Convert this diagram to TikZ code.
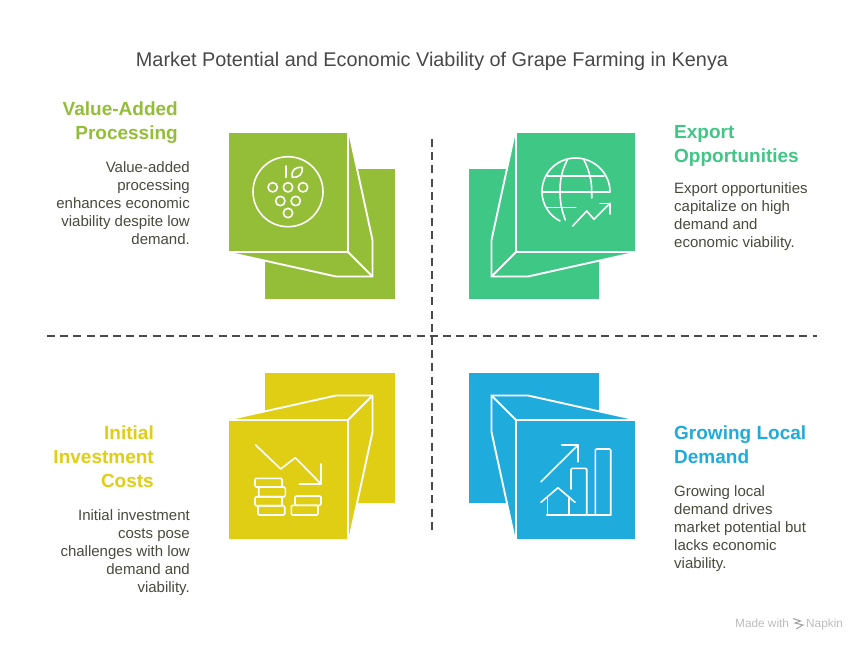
\documentclass[tikz,border=0pt]{standalone}
\usepackage{fontspec}
\setmainfont{Liberation Sans}
\definecolor{cgreen}{HTML}{94BD38}
\definecolor{cteal}{HTML}{3EC785}
\definecolor{cyellow}{HTML}{E0CE14}
\definecolor{cblue}{HTML}{1FACDC}
\definecolor{ctitle}{HTML}{484848}
\definecolor{cbody}{HTML}{4A4A3E}
\definecolor{cdash}{HTML}{4A4A4A}
\definecolor{cfoot}{HTML}{BDBDBD}
\newcommand{\cubeblock}[1]{%
  \fill[#1] (265,169) rectangle (395,299);
  \fill[#1] (348.6,130) -- (372.5,240) -- (372.5,276.5) -- (336,276.5) -- (226,252) -- (349,253) -- cycle;
  \draw[edgeline] (348.6,130) -- (372.5,240) -- (372.5,276.5) -- (336,276.5) -- (226,252);
  \draw[edgeline] (348,252) -- (372,276);
  \draw[white,line width=2.2pt] (348,125) -- (348,252) -- (225,252);
  \fill[#1] (229,133) rectangle (347,251);
}
\tikzset{
  x=1pt,y=-1pt,
  edgeline/.style={white,line width=1.9pt,line join=miter,miter limit=2},
  icon/.style={white,line width=1.6pt,line cap=round,line join=round},
  dashline/.style={cdash,line width=1.7pt,dash pattern=on 8pt off 5.2pt},
  titletxt/.style={ctitle,font=\fontsize{19.85}{24}\selectfont,inner sep=0pt},
  headtxt/.style={font=\fontsize{19}{24}\selectfont\bfseries,inner sep=0pt},
  headr/.style={headtxt,align=right,anchor=north east},
  headl/.style={headtxt,align=left,anchor=north west},
  bodytxt/.style={cbody,font=\fontsize{15}{18}\selectfont,inner sep=0pt},
  bodyr/.style={bodytxt,align=right,anchor=north east},
  bodyl/.style={bodytxt,align=left,anchor=north west},
  foottxt/.style={cfoot,font=\fontsize{11.8}{13}\selectfont,inner sep=0pt,anchor=base west},
}
\begin{document}
\begin{tikzpicture}
\useasboundingbox (0,0) rectangle (864,648);
\fill[white] (0,0) rectangle (864,648);
% blocks
\cubeblock{cgreen}
\begin{scope}[shift={(864,0)},xscale=-1]\cubeblock{cteal}\end{scope}
\begin{scope}[shift={(0,672)},yscale=-1]\cubeblock{cyellow}\end{scope}
\begin{scope}[shift={(864,672)},xscale=-1,yscale=-1]\cubeblock{cblue}\end{scope}
% dashed axes
\coordinate (hl) at (47,336);
\coordinate (hr) at (817,336);
\coordinate (vt) at (432,139);
\coordinate (vb) at (432,533);
\draw[dashline] (hl) -- (hr);
\draw[dashline] (vt) -- (vb);
% title
\node[titletxt] (title) at (432,61) {Market Potential and Economic Viability of Grape Farming in Kenya};
% text
\node[headr,cgreen] (h1) at (178,101.5) {Value-Added\\Processing};
\node[bodyr] (b1) at (190,161.5) {Value-added\\processing\\enhances economic\\viability despite low\\demand.};
\node[headl,cteal] (h2) at (674,125.5) {Export\\Opportunities};
\node[bodyl] (b2) at (674,182.5) {Export opportunities\\capitalize on high\\demand and\\economic viability.};
\node[headr,cyellow] (h3) at (154,425.5) {Initial\\Investment\\Costs};
\node[bodyr] (b3) at (190,509.5) {Initial investment\\costs pose\\challenges with low\\demand and\\viability.};
\node[headl,cblue] (h4) at (674,425.5) {Growing Local\\Demand};
\node[bodyl] (b4) at (674,485.5) {Growing local\\demand drives\\market potential but\\lacks economic\\viability.};
% grape icon
\begin{scope}[icon]
\draw (288,191.7) circle (35);
\foreach \p in {(272.7,187.3),(288,187.3),(303,187.3),(280.3,201),(295.7,201),(288,213)} \draw \p circle (4.7);
\draw (285.7,166) -- (285.7,177.3);
\draw (292.3,177.3) .. controls (291,170) and (295,167) .. (302.3,167.3) .. controls (303,174) and (299,178) .. (292.3,177.3) -- cycle;
\end{scope}
% globe icon
\begin{scope}[icon]
\draw (560,221) .. controls (550,216) and (542,205) .. (542,191.7) .. controls (542,173) and (557,158) .. (575.7,158) .. controls (594,158) and (610,173) .. (610,191.7);
\draw (567.3,160) .. controls (561,172) and (560,182) .. (560,191.7) .. controls (560,203) and (562,211) .. (565.3,220);
\draw (584,160) .. controls (590,172) and (591.7,182) .. (591.7,191.7) -- (591.7,198);
\draw (547.3,176) -- (604,176);
\draw (542.3,191.7) -- (610,191.7);
\draw (547.3,207.3) -- (575.7,207.3);
\draw (572.7,226) -- (586.7,211) -- (594,219.3) -- (610,203.3);
\draw (600,203.3) -- (610,203.3) -- (610,214);
\end{scope}
% coins icon
\begin{scope}[icon]
\draw (255.7,445) -- (280.7,469) -- (295.3,457.7) -- (321,484);
\draw (299.3,484) -- (321,484) -- (321,464);
\draw[rounded corners=1.2pt] (255,478.3) rectangle (282,487);
\draw[rounded corners=1.2pt] (258.7,487) rectangle (285.3,496.7);
\draw[rounded corners=1.2pt] (255,496.7) rectangle (282,505.7);
\draw[rounded corners=1.2pt] (258,505.7) rectangle (284.7,515);
\draw[rounded corners=1.2pt] (295,496) rectangle (321,505.3);
\draw[rounded corners=1.2pt] (291.3,505.3) rectangle (318,515);
\end{scope}
% chart icon
\begin{scope}[icon]
\draw (541,481.7) -- (578,445);
\draw (561.7,445) -- (578,445) -- (578,461.7);
\draw (546.7,515) -- (610.7,515);
\draw[rounded corners=1.2pt] (571,489) -- (571,468.3) -- (586.7,468.3) -- (586.7,515);
\draw[rounded corners=1.2pt] (595.3,515) -- (595.3,449) -- (610.7,449) -- (610.7,515);
\draw (541,502.3) -- (558,487.7) -- (575,502.3);
\draw (547.3,497) -- (547.3,515);
\draw (568.7,497) -- (568.7,515);
\end{scope}
% footer
\node[foottxt] (f1) at (735,627) {Made with};
\node[foottxt] (f2) at (806,627) {Napkin};
\draw[cfoot!85!black,line width=1pt] (793,618.5) -- (800.5,621) -- (795,623) -- (803,625) -- (796,629);
\end{tikzpicture}
\end{document}
